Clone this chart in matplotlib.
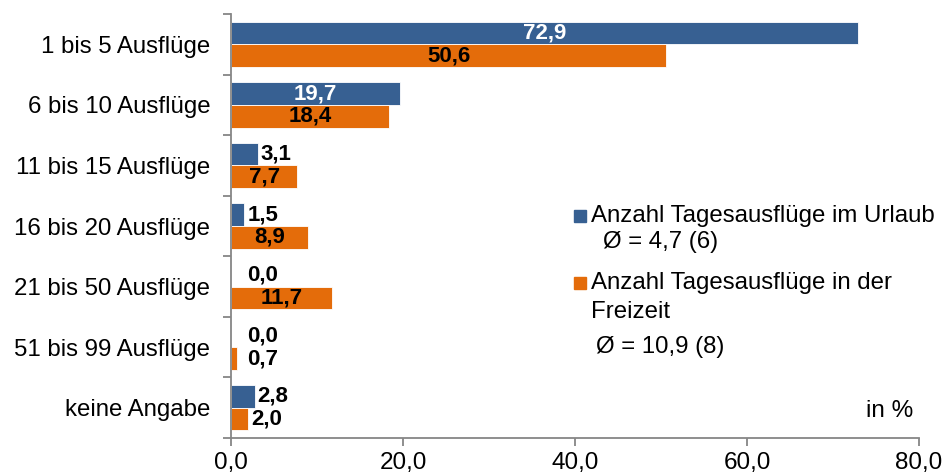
import numpy as np
import matplotlib.pyplot as plt
from matplotlib.patches import Rectangle

plt.rcParams['font.family'] = ['Liberation Sans', 'DejaVu Sans']

kategorien = ['1 bis 5 Ausflüge', '6 bis 10 Ausflüge', '11 bis 15 Ausflüge',
              '16 bis 20 Ausflüge', '21 bis 50 Ausflüge', '51 bis 99 Ausflüge',
              'keine Angabe']
urlaub = [72.9, 19.7, 3.1, 1.5, 0.0, 0.0, 2.8]
freizeit = [50.6, 18.4, 7.7, 8.9, 11.7, 0.7, 2.0]
x_ticks = [0, 20, 40, 60, 80]
legende = ['Anzahl Tagesausflüge im Urlaub', 'Ø = 4,7 (6)',
           'Anzahl Tagesausflüge in der', 'Freizeit', 'Ø = 10,9 (8)']

blau = '#376092'
orange = '#E46C0A'
grau = '#868686'

W, H = 946, 474
fig = plt.figure(figsize=(W / 100, H / 100), dpi=100)
ax = fig.add_axes([231 / W, 36 / H, 688 / W, 424 / H])


def px(xp, yp):
    # Pixel (von oben links) -> Figurkoordinaten
    return xp / W, 1 - yp / H


y = np.arange(len(kategorien))
h = 0.375
ax.barh(y - h / 2, urlaub, height=h, color=blau, edgecolor='white', linewidth=0.6)
ax.barh(y + h / 2, freizeit, height=h, color=orange, edgecolor='white', linewidth=0.6)

ax.set_xlim(0, 80)
ax.set_ylim(len(kategorien) - 0.5, -0.5)

# Datenbeschriftungen
fs_wert = 16
for i in range(len(kategorien)):
    v = urlaub[i]
    s = f'{v:.1f}'.replace('.', ',')
    if v > 15:
        ax.text(v / 2, i - h / 2, s, ha='center', va='center', color='white',
                fontsize=fs_wert, fontweight='bold')
    else:
        ax.text(max(v, 1.6) + 0.3, i - h / 2, s, ha='left', va='center',
                color='black', fontsize=fs_wert, fontweight='bold')
    v = freizeit[i]
    s = f'{v:.1f}'.replace('.', ',')
    if v > 5:
        ax.text(v / 2, i + h / 2, s, ha='center', va='center', color='black',
                fontsize=fs_wert, fontweight='bold')
    else:
        ax.text(max(v, 1.6) + 0.3, i + h / 2, s, ha='left', va='center',
                color='black', fontsize=fs_wert, fontweight='bold')

# Achsen
for sp in ['top', 'right']:
    ax.spines[sp].set_visible(False)
for sp in ['left', 'bottom']:
    ax.spines[sp].set_color(grau)
    ax.spines[sp].set_linewidth(1.3)

ax.set_yticks(y)
ax.set_yticklabels(kategorien, fontsize=17.3)
ax.set_yticks(np.arange(len(kategorien) + 1) - 0.5, minor=True)
ax.tick_params(axis='y', which='major', length=0, pad=15)
ax.tick_params(axis='y', which='minor', length=6, width=1.3, color=grau)

ax.set_xticks(x_ticks)
ax.set_xticklabels([f'{t:.1f}'.replace('.', ',') for t in x_ticks], fontsize=17.5)
ax.tick_params(axis='x', length=6, width=1.3, color=grau, pad=4)

fig.text(*px(913, 411), 'in %', ha='right', va='center', fontsize=17.5)

# Legende
for (farbe, ytop) in [(blau, 210), (orange, 277)]:
    fig.patches.append(Rectangle(px(574, ytop + 12), 12 / W, 12 / H, color=farbe,
                                 transform=fig.transFigure, figure=fig))

positionen = [(591, 216), (603, 242), (591, 283), (591, 312), (596, 347)]
for txt, (xp, yp) in zip(legende, positionen):
    fig.text(*px(xp, yp), txt, ha='left', va='center', fontsize=17.3)

fig.savefig('out.png', dpi=100)
